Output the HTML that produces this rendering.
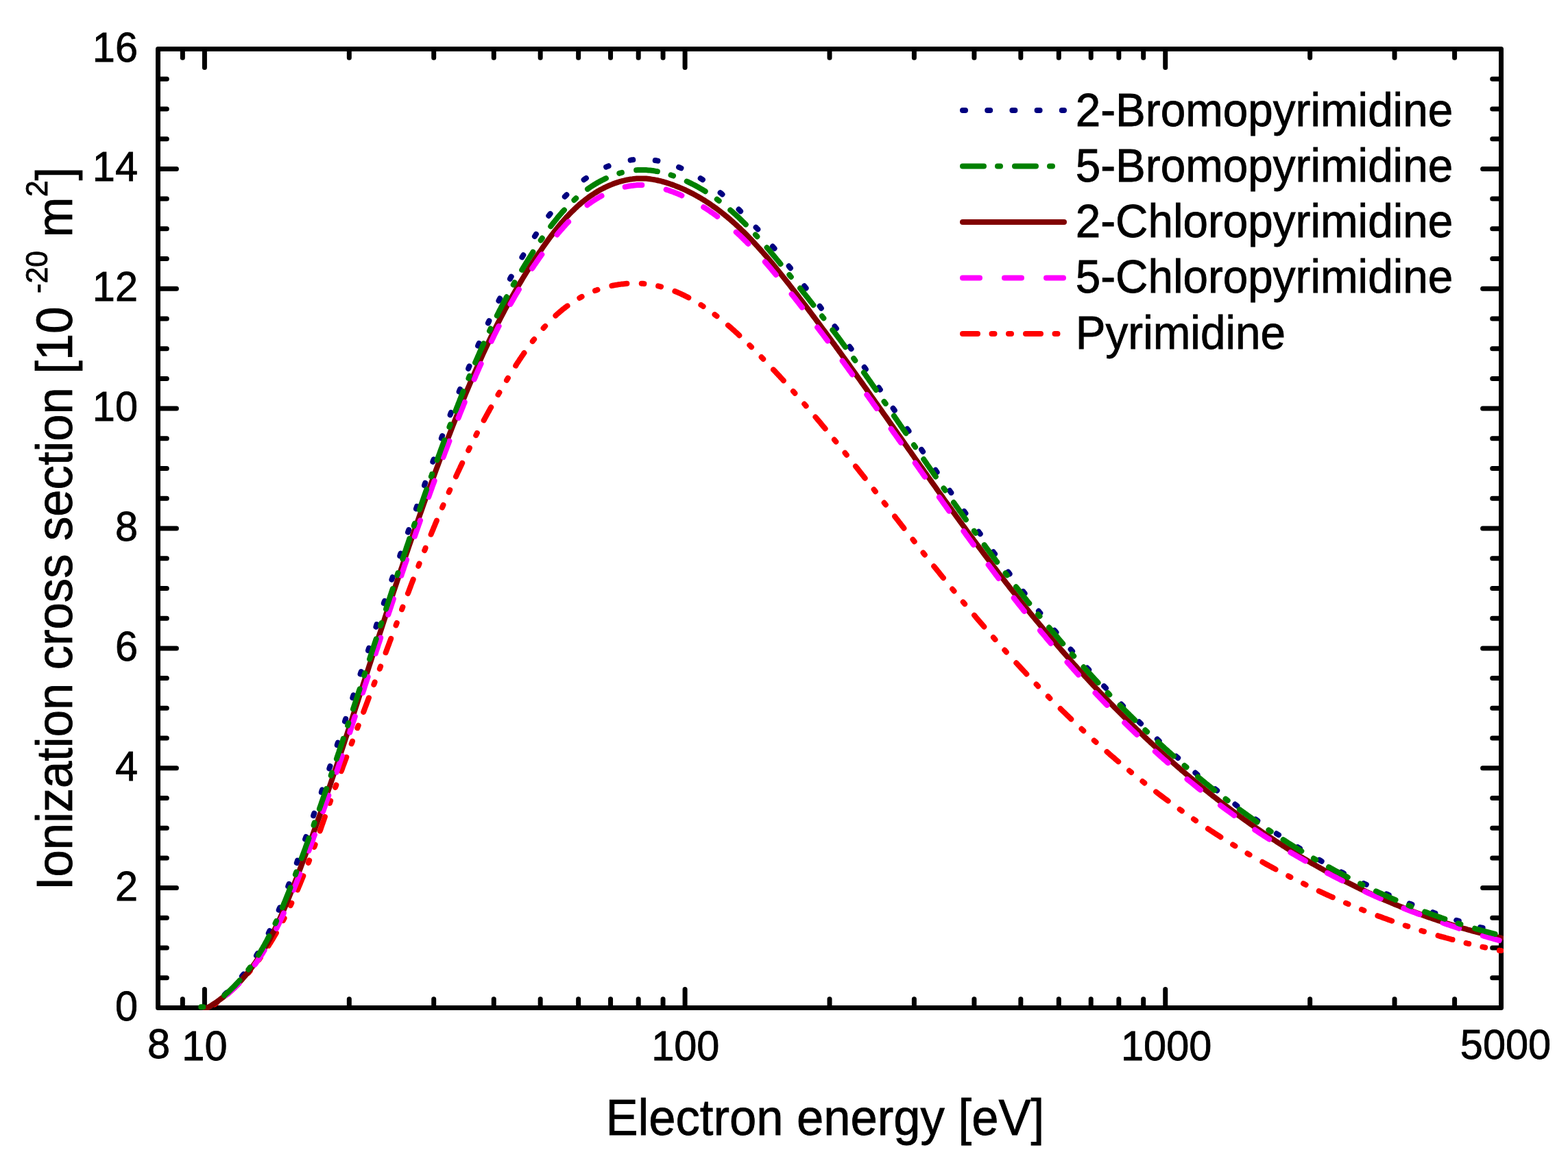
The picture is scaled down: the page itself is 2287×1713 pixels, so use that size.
<!DOCTYPE html>
<html><head><meta charset="utf-8"><title>Ionization cross section</title>
<style>html,body{margin:0;padding:0;background:#fff;}svg{display:block;}text{font-family:"Liberation Sans",Arial,sans-serif;fill:#000;}</style></head><body>
<svg width="2287" height="1713" viewBox="0 0 2287 1713">
<rect width="2287" height="1713" fill="#fff"/>
<path d="M298.40 1470.50V1443.60M298.40 71.50V98.40M999.08 1470.50V1443.60M999.08 71.50V98.40M1699.75 1470.50V1443.60M1699.75 71.50V98.40M266.34 1470.50V1457.70M266.34 71.50V84.30M509.33 1470.50V1457.70M509.33 71.50V84.30M632.71 1470.50V1457.70M632.71 71.50V84.30M720.25 1470.50V1457.70M720.25 71.50V84.30M788.15 1470.50V1457.70M788.15 71.50V84.30M843.63 1470.50V1457.70M843.63 71.50V84.30M890.54 1470.50V1457.70M890.54 71.50V84.30M931.17 1470.50V1457.70M931.17 71.50V84.30M967.02 1470.50V1457.70M967.02 71.50V84.30M1210.00 1470.50V1457.70M1210.00 71.50V84.30M1333.38 1470.50V1457.70M1333.38 71.50V84.30M1420.92 1470.50V1457.70M1420.92 71.50V84.30M1488.83 1470.50V1457.70M1488.83 71.50V84.30M1544.31 1470.50V1457.70M1544.31 71.50V84.30M1591.21 1470.50V1457.70M1591.21 71.50V84.30M1631.85 1470.50V1457.70M1631.85 71.50V84.30M1667.69 1470.50V1457.70M1667.69 71.50V84.30M1910.67 1470.50V1457.70M1910.67 71.50V84.30M2034.06 1470.50V1457.70M2034.06 71.50V84.30M2121.60 1470.50V1457.70M2121.60 71.50V84.30M230.50 1426.78H243.30M2189.50 1426.78H2176.70M230.50 1383.06H243.30M2189.50 1383.06H2176.70M230.50 1339.34H243.30M2189.50 1339.34H2176.70M230.50 1295.62H257.40M2189.50 1295.62H2162.60M230.50 1251.91H243.30M2189.50 1251.91H2176.70M230.50 1208.19H243.30M2189.50 1208.19H2176.70M230.50 1164.47H243.30M2189.50 1164.47H2176.70M230.50 1120.75H257.40M2189.50 1120.75H2162.60M230.50 1077.03H243.30M2189.50 1077.03H2176.70M230.50 1033.31H243.30M2189.50 1033.31H2176.70M230.50 989.59H243.30M2189.50 989.59H2176.70M230.50 945.88H257.40M2189.50 945.88H2162.60M230.50 902.16H243.30M2189.50 902.16H2176.70M230.50 858.44H243.30M2189.50 858.44H2176.70M230.50 814.72H243.30M2189.50 814.72H2176.70M230.50 771.00H257.40M2189.50 771.00H2162.60M230.50 727.28H243.30M2189.50 727.28H2176.70M230.50 683.56H243.30M2189.50 683.56H2176.70M230.50 639.84H243.30M2189.50 639.84H2176.70M230.50 596.12H257.40M2189.50 596.12H2162.60M230.50 552.41H243.30M2189.50 552.41H2176.70M230.50 508.69H243.30M2189.50 508.69H2176.70M230.50 464.97H243.30M2189.50 464.97H2176.70M230.50 421.25H257.40M2189.50 421.25H2162.60M230.50 377.53H243.30M2189.50 377.53H2176.70M230.50 333.81H243.30M2189.50 333.81H2176.70M230.50 290.09H243.30M2189.50 290.09H2176.70M230.50 246.38H257.40M2189.50 246.38H2162.60M230.50 202.66H243.30M2189.50 202.66H2176.70M230.50 158.94H243.30M2189.50 158.94H2176.70M230.50 115.22H243.30M2189.50 115.22H2176.70" stroke="#000" stroke-width="7" stroke-linecap="round" fill="none"/>
<rect x="230.5" y="71.5" width="1959.0" height="1399.0" fill="none" stroke="#000" stroke-width="7" stroke-linejoin="round"/>
<defs><clipPath id="pc"><rect x="227.0" y="68.0" width="1966.0" height="1406.0"/></clipPath></defs>
<g clip-path="url(#pc)" fill="none" stroke-width="8" stroke-linecap="round" stroke-linejoin="round">
<path d="M312.9 1465.5L314.5 1464.3L315.9 1463.3M332.4 1449.9L333.9 1448.6L335.4 1447.2L336.9 1445.9L338.4 1444.5L339.8 1443.2L341.3 1441.8L342.7 1440.4L344.2 1439.0L345.6 1437.6L347.0 1436.2L348.2 1435.0M362.3 1419.7L363.5 1418.1L364.7 1416.8M377.5 1400.5L378.7 1398.9L379.7 1397.4M391.7 1379.9L392.7 1378.2L393.8 1376.5L394.9 1374.8L395.9 1373.1L397.0 1371.4L398.0 1369.7L399.0 1368.0L400.0 1366.3L401.1 1364.5L402.1 1362.8L402.9 1361.3M412.9 1343.1L413.8 1341.3L414.6 1339.8M423.7 1321.1L424.6 1319.3L425.3 1317.7M434.0 1298.3L434.8 1296.5L435.5 1294.6L436.3 1292.8L437.1 1290.9L437.9 1289.1L438.6 1287.2L439.4 1285.4L440.1 1283.5L440.9 1281.7L441.6 1279.8L442.3 1278.2M449.8 1258.9L450.5 1257.0L451.1 1255.4M458.3 1235.9L459.0 1234.0L459.6 1232.4M466.7 1212.4L467.4 1210.5L468.1 1208.6L468.7 1206.7L469.4 1204.8L470.0 1202.9L470.7 1201.0L471.4 1199.1L472.0 1197.3L472.7 1195.4L473.3 1193.5L473.9 1191.8M480.9 1172.0L481.5 1170.1L482.1 1168.5M489.1 1148.9L489.8 1147.1L490.4 1145.4M497.8 1125.2L498.5 1123.3L499.2 1121.5L499.8 1119.6L500.5 1117.7L501.2 1115.8L501.9 1114.0L502.6 1112.1L503.3 1110.2L504.0 1108.3L504.7 1106.5L505.3 1104.8M512.7 1085.2L513.4 1083.3L514.0 1081.6M521.3 1062.2L522.0 1060.4L522.7 1058.7M530.2 1038.9L530.9 1037.0L531.6 1035.1L532.3 1033.2L533.0 1031.4L533.7 1029.5L534.4 1027.6L535.1 1025.8L535.8 1023.9L536.5 1022.0L537.2 1020.1L537.9 1018.3M545.3 998.9L546.0 997.0L546.6 995.3M553.8 975.9L554.5 974.0L555.1 972.4M562.6 952.2L563.3 950.4L564.0 948.5L564.7 946.6L565.4 944.7L566.1 942.9L566.8 941.0L567.5 939.1L568.2 937.2L568.9 935.4L569.6 933.5L570.2 931.8M577.5 912.4L578.2 910.5L578.8 908.9M586.1 889.2L586.8 887.3L587.4 885.7M594.9 865.8L595.7 864.0L596.4 862.1L597.1 860.2L597.8 858.3L598.5 856.5L599.2 854.6L599.9 852.7L600.6 850.9L601.3 849.0L602.1 847.1L602.7 845.5M610.3 825.9L611.0 824.0L611.6 822.4M619.2 803.1L620.0 801.3L620.6 799.6M628.6 779.7L629.4 777.8L630.1 776.0L630.9 774.1L631.7 772.3L632.4 770.4L633.2 768.6L634.0 766.7L634.7 764.9L635.5 763.0L636.3 761.2L636.9 759.6M645.0 740.5L645.8 738.6L646.5 737.0M654.7 718.2L655.5 716.4L656.2 714.8M665.0 695.4L665.8 693.6L666.6 691.8L667.5 690.0L668.3 688.2L669.2 686.4L670.0 684.6L670.9 682.7L671.7 680.9L672.6 679.1L673.4 677.3L674.2 675.7M683.2 657.1L684.1 655.3L684.9 653.7M694.2 635.2L695.1 633.4L695.9 631.8M705.7 613.3L706.7 611.5L707.6 609.7L708.6 608.0L709.5 606.2L710.5 604.5L711.4 602.7L712.4 601.0L713.4 599.2L714.3 597.5L715.3 595.7L716.2 594.2M726.5 575.9L727.5 574.2L728.4 572.7M739.0 554.8L740.0 553.1L740.9 551.6M752.2 533.6L753.2 531.9L754.3 530.2L755.4 528.5L756.5 526.9L757.6 525.2L758.7 523.5L759.8 521.9L760.9 520.2L762.1 518.5L763.2 516.9L764.3 515.2L764.5 515.0M776.8 498.0L778.0 496.4L779.1 495.1M792.6 478.7L794.0 477.2L795.2 475.9M810.4 460.5L811.9 459.1L813.4 457.8L814.9 456.5L816.4 455.1L817.9 453.9L819.5 452.6L821.0 451.3L822.6 450.1L824.2 448.8L825.8 447.6L827.4 446.4L827.6 446.3M845.3 434.7L847.1 433.7L848.6 432.9M868.0 424.1L869.9 423.4L871.5 422.8M892.4 416.9L894.4 416.5L896.3 416.1L898.3 415.8L900.3 415.5L902.3 415.1L904.2 414.9L906.2 414.6L908.2 414.4L910.2 414.2L912.2 414.0L914.2 413.8L914.4 413.8M935.7 413.7L937.7 413.8L939.4 414.0M960.1 417.3L962.1 417.8L964.0 418.3M984.4 425.0L986.3 425.8L988.1 426.5L989.9 427.3L991.8 428.1L993.6 429.0L995.4 429.8L997.2 430.7L999.0 431.6L1000.8 432.5L1002.6 433.4L1004.3 434.3M1022.4 444.9L1024.1 446.0L1025.6 447.0M1042.5 459.0L1044.1 460.2L1045.5 461.2M1061.9 474.7L1063.5 476.0L1065.0 477.3L1066.5 478.6L1068.0 479.9L1069.5 481.3L1071.0 482.6L1072.4 483.9L1073.9 485.3L1075.4 486.6L1076.9 488.0L1078.3 489.4M1093.3 503.7L1094.8 505.1L1096.0 506.3M1110.6 521.1L1112.0 522.5L1113.2 523.8M1128.0 539.4L1129.4 540.8L1130.8 542.3L1132.1 543.7L1133.5 545.2L1134.8 546.7L1136.2 548.1L1137.6 549.6L1138.9 551.1L1140.3 552.5L1141.6 554.0L1142.8 555.3M1156.9 570.9L1158.2 572.4L1159.4 573.7M1173.2 589.5L1174.5 591.0L1175.6 592.3M1189.4 608.5L1190.7 610.0L1192.0 611.6L1193.3 613.1L1194.6 614.6L1195.9 616.2L1197.2 617.7L1198.4 619.2L1199.7 620.8L1201.0 622.3L1202.3 623.8L1203.6 625.4M1216.9 641.6L1218.2 643.1L1219.3 644.5M1232.5 660.8L1233.7 662.4L1234.8 663.8M1248.0 680.4L1249.3 682.0L1250.5 683.5L1251.7 685.1L1253.0 686.7L1254.2 688.3L1255.5 689.8L1256.7 691.4L1257.9 693.0L1259.2 694.5L1260.4 696.1L1261.6 697.7M1274.6 714.2L1275.8 715.8L1276.9 717.2M1289.6 733.6L1290.8 735.2L1291.9 736.5M1305.1 753.5L1306.3 755.1L1307.5 756.7L1308.8 758.3L1310.0 759.8L1311.2 761.4L1312.5 763.0L1313.7 764.6L1314.9 766.2L1316.1 767.7L1317.4 769.3L1318.4 770.7M1331.4 787.2L1332.6 788.8L1333.7 790.2M1346.5 806.5L1347.7 808.1L1348.8 809.4M1362.2 826.3L1363.5 827.8L1364.7 829.4L1366.0 830.9L1367.2 832.5L1368.5 834.1L1369.7 835.6L1371.0 837.2L1372.2 838.7L1373.5 840.3L1374.8 841.9L1375.9 843.2M1389.1 859.5L1390.4 861.0L1391.5 862.4M1404.7 878.4L1406.0 879.9L1407.1 881.3M1421.0 897.7L1422.3 899.2L1423.6 900.8L1424.9 902.3L1426.2 903.8L1427.5 905.3L1428.8 906.8L1430.1 908.4L1431.4 909.9L1432.7 911.4L1434.0 912.9L1435.3 914.4M1448.9 930.1L1450.2 931.6L1451.5 933.1M1465.3 948.6L1466.7 950.1L1467.8 951.4M1482.3 967.3L1483.7 968.8L1485.0 970.2L1486.4 971.7L1487.7 973.2L1489.1 974.6L1490.4 976.1L1491.8 977.6L1493.2 979.0L1494.5 980.5L1495.9 981.9L1497.3 983.4M1511.6 998.5L1512.9 999.9L1514.1 1001.2M1528.8 1016.2L1530.2 1017.6L1531.4 1018.9M1546.7 1034.1L1548.1 1035.5L1549.5 1036.9L1551.0 1038.3L1552.4 1039.6L1553.8 1041.0L1555.2 1042.4L1556.7 1043.8L1558.1 1045.2L1559.6 1046.6L1561.0 1048.0L1562.3 1049.2M1577.5 1063.6L1579.0 1065.0L1580.3 1066.2M1595.8 1080.4L1597.3 1081.7L1598.6 1082.9M1614.5 1096.9L1616.0 1098.3L1617.5 1099.6L1619.0 1100.9L1620.5 1102.2L1622.0 1103.5L1623.6 1104.8L1625.1 1106.1L1626.6 1107.4L1628.1 1108.7L1629.6 1110.0L1631.2 1111.3M1647.1 1124.5L1648.7 1125.8L1650.0 1126.9M1666.4 1140.1L1668.0 1141.3L1669.3 1142.4M1686.1 1155.4L1687.7 1156.6L1689.3 1157.9L1690.9 1159.1L1692.5 1160.3L1694.1 1161.5L1695.7 1162.7L1697.3 1163.9L1698.9 1165.1L1700.5 1166.3L1702.1 1167.4L1703.7 1168.6M1720.7 1181.0L1722.3 1182.1L1723.8 1183.2M1741.0 1195.2L1742.6 1196.3L1744.1 1197.3M1761.9 1209.3L1763.6 1210.4L1765.2 1211.5L1766.9 1212.6L1768.6 1213.7L1770.3 1214.8L1771.9 1215.9L1773.6 1217.0L1775.3 1218.0L1777.0 1219.1L1778.7 1220.2L1780.4 1221.3M1798.2 1232.4L1799.9 1233.5L1801.4 1234.4M1819.4 1245.2L1821.1 1246.2L1822.6 1247.1M1841.3 1257.8L1843.0 1258.7L1844.8 1259.7L1846.5 1260.7L1848.2 1261.7L1850.0 1262.6L1851.7 1263.6L1853.5 1264.5L1855.3 1265.5L1857.0 1266.5L1858.8 1267.4L1860.5 1268.4M1879.1 1278.2L1880.9 1279.1L1882.4 1279.9M1901.0 1289.2L1902.8 1290.1L1904.6 1291.0M1923.7 1300.1L1925.5 1301.0L1927.4 1301.8L1929.2 1302.7L1931.0 1303.5L1932.8 1304.3L1934.6 1305.2L1936.5 1306.0L1938.3 1306.8L1940.1 1307.6L1941.9 1308.5L1943.8 1309.3M1963.0 1317.6L1964.9 1318.4L1966.5 1319.1M1985.9 1327.1L1987.8 1327.8L1989.4 1328.4M2009.4 1336.2L2011.3 1336.9L2013.2 1337.6L2015.1 1338.3L2016.9 1339.0L2018.8 1339.7L2020.7 1340.3L2022.6 1341.0L2024.5 1341.7L2026.3 1342.4L2028.2 1343.0L2030.1 1343.7M2049.7 1350.5L2051.6 1351.1L2053.3 1351.6M2073.3 1358.0L2075.2 1358.6L2076.9 1359.1M2097.5 1365.2L2099.4 1365.8L2101.3 1366.3L2103.3 1366.9L2105.2 1367.4L2107.1 1367.9L2109.1 1368.5L2111.0 1369.0L2112.9 1369.5L2114.8 1370.0L2116.8 1370.6L2118.5 1371.0M2138.6 1376.1L2140.5 1376.6L2142.2 1377.0M2162.4 1381.7L2164.4 1382.1L2166.1 1382.5M2186.9 1386.8L2188.9 1387.1L2189.4 1387.1" stroke="#FF0000"/>
<path d="M298.2 1470.6L300.2 1470.5L302.0 1470.4M327.7 1451.1L329.2 1449.7L330.6 1448.4M352.9 1424.4L354.1 1422.8L355.2 1421.5M374.0 1394.3L375.0 1392.6L375.9 1391.1M391.7 1361.6L392.6 1359.8L393.3 1358.2M406.7 1327.8L407.5 1325.9L408.1 1324.3M420.2 1293.3L420.9 1291.4L421.5 1289.8M432.8 1259.1L433.5 1257.2L434.0 1255.5M445.1 1224.5L445.8 1222.6L446.4 1220.9M457.1 1190.2L457.7 1188.3L458.3 1186.7M468.8 1155.9L469.4 1154.0L470.0 1152.4M480.3 1121.5L480.9 1119.6L481.5 1118.0M491.7 1087.1L492.3 1085.2L492.8 1083.6M503.0 1052.7L503.6 1050.8L504.2 1048.9M514.3 1018.2L514.9 1016.3L515.5 1014.4M525.6 983.5L526.3 981.6L526.8 980.0M537.0 949.1L537.6 947.2L538.1 945.6M548.4 914.7L549.0 912.8L549.5 911.1M559.8 880.3L560.4 878.4L561.0 876.8M571.4 845.7L572.1 843.8L572.6 842.2M583.2 811.1L583.8 809.2L584.4 807.6M595.0 776.6L595.7 774.7L596.2 773.1M606.9 742.4L607.6 740.5L608.1 738.8M619.0 708.2L619.6 706.3L620.2 704.7M631.3 673.8L632.0 672.0L632.6 670.3M643.8 639.6L644.5 637.7L645.1 636.0M656.6 605.4L657.3 603.5L657.9 601.9M669.6 571.5L670.3 569.7L671.0 568.0M683.1 537.9L683.8 536.0L684.5 534.4M697.1 504.5L697.9 502.6L698.6 501.0M711.9 471.4L712.8 469.6L713.4 468.2M727.4 438.9L728.3 437.1L729.1 435.5M743.9 406.9L744.8 405.1L745.7 403.6M761.4 375.4L762.4 373.7L763.3 372.2M779.9 344.8L781.0 343.1L781.9 341.7M800.3 314.9L801.5 313.3L802.6 311.9M823.8 286.9L825.2 285.5L826.4 284.2M851.6 262.3L853.3 261.1L854.9 260.0M884.1 243.7L885.9 242.9L887.6 242.2M919.6 233.6L921.6 233.3L923.3 233.1M955.7 234.0L957.6 234.3L959.4 234.7M990.0 243.9L991.8 244.6L993.4 245.3M1021.7 260.2L1023.4 261.3L1024.9 262.2M1050.6 281.2L1052.2 282.4L1053.5 283.6M1077.5 305.5L1078.9 306.9L1080.1 308.2M1102.6 331.7L1103.9 333.1L1105.3 334.6M1127.0 359.5L1128.3 361.0L1129.6 362.5M1150.6 388.3L1151.8 389.9L1152.9 391.2M1173.2 417.3L1174.4 418.9L1175.6 420.5M1195.6 446.7L1196.8 448.3L1197.8 449.7M1217.5 476.2L1218.7 477.8L1219.9 479.4M1239.2 505.8L1240.4 507.5L1241.6 509.1M1260.7 535.7L1261.8 537.3L1262.8 538.8M1281.7 565.5L1282.8 567.2L1283.8 568.6M1302.6 595.7L1303.8 597.4L1304.8 598.8M1323.3 625.8L1324.5 627.4L1325.5 628.9M1344.0 655.9L1345.1 657.6L1346.1 659.0M1364.5 685.8L1365.6 687.4L1366.6 688.9M1385.2 715.8L1386.3 717.5L1387.3 718.9M1406.2 746.0L1407.4 747.6L1408.4 749.0M1427.4 775.8L1428.5 777.4L1429.7 779.0M1448.8 805.3L1449.9 806.9L1451.0 808.3M1470.4 834.4L1471.6 836.0L1472.6 837.4M1492.3 863.0L1493.5 864.6L1494.6 865.9M1514.9 891.6L1516.2 893.2L1517.3 894.5M1538.1 919.8L1539.4 921.3L1540.5 922.7M1561.6 947.4L1562.9 948.9L1564.1 950.2M1585.7 974.5L1587.0 976.0L1588.2 977.3M1610.2 1001.2L1611.6 1002.6L1613.0 1004.1M1635.5 1027.5L1636.9 1028.9L1638.1 1030.2M1661.4 1053.3L1662.8 1054.7L1664.1 1055.9M1687.8 1078.4L1689.3 1079.8L1690.7 1081.1M1715.4 1103.4L1716.9 1104.8L1718.2 1105.9M1743.4 1127.6L1745.0 1128.9L1746.5 1130.2M1772.3 1151.2L1773.8 1152.4L1775.2 1153.5M1801.4 1173.6L1803.0 1174.8L1804.4 1175.9M1831.3 1195.4L1832.9 1196.5L1834.3 1197.5M1861.8 1216.3L1863.5 1217.4L1865.0 1218.3M1892.8 1236.0L1894.5 1237.1L1896.0 1238.0M1924.4 1254.8L1926.1 1255.8L1927.7 1256.7M1956.6 1272.5L1958.4 1273.4L1959.9 1274.3M1989.2 1289.0L1991.0 1289.9L1992.8 1290.7M2022.3 1304.3L2024.1 1305.1L2025.7 1305.8M2055.7 1318.4L2057.6 1319.1L2059.4 1319.8M2089.9 1331.2L2091.7 1331.9L2093.4 1332.5M2124.2 1342.8L2126.1 1343.4L2127.8 1343.9M2159.0 1353.0L2160.9 1353.5L2162.6 1353.9" stroke="#000080"/>
<path d="M298.4 1470.5L300.4 1470.5L302.4 1470.5L304.4 1469.5L306.4 1468.3L308.4 1467.0L310.4 1465.7L312.4 1464.4L314.4 1463.1L316.4 1461.7L318.4 1460.2L320.4 1458.8L322.4 1457.3L324.4 1455.8L326.4 1454.2L328.4 1452.6L330.4 1450.9L332.4 1449.2L334.4 1447.5L336.4 1445.7L338.4 1443.9L340.4 1442.0L342.4 1440.1L344.4 1438.1L346.4 1436.1L348.4 1434.0L350.4 1431.9L352.4 1429.7L354.4 1427.4L356.4 1425.1L358.4 1422.8L360.4 1420.4L362.4 1417.9L364.4 1415.3L366.4 1412.7L368.4 1410.1L370.4 1407.3L372.4 1404.5L374.4 1401.6L376.4 1398.6L378.4 1395.6L380.4 1392.5L382.4 1389.3L384.4 1386.0L386.4 1382.6L388.4 1379.2L390.4 1375.7L392.4 1372.1L394.4 1368.3L396.4 1364.5L398.4 1360.7L400.4 1356.7L402.4 1352.6L404.4 1348.4L406.4 1344.2L408.4 1339.8L410.4 1335.4L412.4 1330.9L414.4 1326.3L416.4 1321.6L418.4 1316.8L420.4 1311.9L422.4 1307.0L424.4 1302.1L426.4 1297.0L428.4 1292.0L430.4 1286.8L432.4 1281.7L434.4 1276.5L436.4 1271.3L438.4 1266.0L440.4 1260.7L442.4 1255.4L444.4 1250.1L446.4 1244.7L448.4 1239.3L450.4 1233.8L452.4 1228.4L454.4 1222.9L456.4 1217.3L458.4 1211.7L460.4 1206.1L462.4 1200.5L464.4 1194.9L466.4 1189.2L468.4 1183.5L470.4 1177.7L472.4 1171.9L474.4 1166.1L476.4 1160.3L478.4 1154.5L480.4 1148.6L482.4 1142.7L484.4 1136.8L486.4 1130.8L488.4 1124.9L490.4 1118.9L492.4 1112.9L494.4 1106.9L496.4 1100.8L498.4 1094.8L500.4 1088.7L502.4 1082.6L504.4 1076.5L506.4 1070.4L508.4 1064.3L510.4 1058.2L512.4 1052.0L514.4 1045.9L516.4 1039.7L518.4 1033.6L520.4 1027.4L522.4 1021.3L524.4 1015.1L526.4 1009.0L528.4 1002.8L530.4 996.6L532.4 990.5L534.4 984.3L536.4 978.2L538.4 972.0L540.4 965.9L542.4 959.7L544.4 953.6L546.4 947.4L548.4 941.3L550.4 935.2L552.4 929.1L554.4 923.0L556.4 916.9L558.4 910.8L560.4 904.7L562.4 898.6L564.4 892.6L566.4 886.5L568.4 880.5L570.4 874.4L572.4 868.4L574.4 862.4L576.4 856.4L578.4 850.4L580.4 844.5L582.4 838.5L584.4 832.6L586.4 826.7L588.4 820.8L590.4 814.9L592.4 809.0L594.4 803.1L596.4 797.3L598.4 791.5L600.4 785.7L602.4 779.9L604.4 774.1L606.4 768.4L608.4 762.7L610.4 757.0L612.4 751.3L614.4 745.6L616.4 740.0L618.4 734.3L620.4 728.7L622.4 723.2L624.4 717.6L626.4 712.1L628.4 706.5L630.4 701.0L632.4 695.6L634.4 690.1L636.4 684.7L638.4 679.3L640.4 673.9L642.4 668.6L644.4 663.2L646.4 657.9L648.4 652.6L650.4 647.4L652.4 642.1L654.4 636.9L656.4 631.7L658.4 626.6L660.4 621.4L662.4 616.3L664.4 611.2L666.4 606.2L668.4 601.2L670.4 596.2L672.4 591.2L674.4 586.3L676.4 581.4L678.4 576.5L680.4 571.7L682.4 566.9L684.4 562.2L686.4 557.4L688.4 552.8L690.4 548.1L692.4 543.5L694.4 539.0L696.4 534.4L698.4 529.9L700.4 525.5L702.4 521.1L704.4 516.7L706.4 512.4L708.4 508.1L710.4 503.8L712.4 499.6L714.4 495.4L716.4 491.3L718.4 487.2L720.4 483.1L722.4 479.1L724.4 475.1L726.4 471.2L728.4 467.3L730.4 463.4L732.4 459.6L734.4 455.8L736.4 452.0L738.4 448.3L740.4 444.6L742.4 440.9L744.4 437.3L746.4 433.7L748.4 430.2L750.4 426.7L752.4 423.2L754.4 419.7L756.4 416.3L758.4 412.9L760.4 409.6L762.4 406.3L764.4 403.0L766.4 399.7L768.4 396.5L770.4 393.3L772.4 390.1L774.4 387.0L776.4 383.9L778.4 380.8L780.4 377.8L782.4 374.8L784.4 371.8L786.4 368.8L788.4 365.9L790.4 363.0L792.4 360.1L794.4 357.2L796.4 354.4L798.4 351.6L800.4 348.9L802.4 346.2L804.4 343.5L806.4 340.8L808.4 338.2L810.4 335.7L812.4 333.2L814.4 330.7L816.4 328.3L818.4 325.9L820.4 323.6L822.4 321.3L824.4 319.0L826.4 316.8L828.4 314.7L830.4 312.6L832.4 310.5L834.4 308.5L836.4 306.6L838.4 304.6L840.4 302.8L842.4 300.9L844.4 299.1L846.4 297.4L848.4 295.7L850.4 294.1L852.4 292.5L854.4 290.9L856.4 289.4L858.4 287.9L860.4 286.5L862.4 285.1L864.4 283.8L866.4 282.5L868.4 281.2L870.4 280.0L872.4 278.8L874.4 277.6L876.4 276.5L878.4 275.5L880.4 274.4L882.4 273.5L884.4 272.5L886.4 271.6L888.4 270.7L890.4 269.9L892.4 269.1L894.4 268.3L896.4 267.5L898.4 266.8L900.4 266.2L902.4 265.5L904.4 264.9L906.4 264.4L908.4 263.8L910.4 263.4L912.4 262.9L914.4 262.5L916.4 262.1L918.4 261.7L920.4 261.4L922.4 261.2L924.4 260.9L926.4 260.7L928.4 260.6L930.4 260.5L932.4 260.4L934.4 260.4L936.4 260.4L938.4 260.4L940.4 260.5L942.4 260.6L944.4 260.8L946.4 261.0L948.4 261.3L950.4 261.6L952.4 261.9L954.4 262.2L956.4 262.6L958.4 263.0L960.4 263.5L962.4 263.9L964.4 264.4L966.4 265.0L968.4 265.5L970.4 266.1L972.4 266.7L974.4 267.4L976.4 268.0L978.4 268.7L980.4 269.4L982.4 270.1L984.4 270.9L986.4 271.7L988.4 272.5L990.4 273.3L992.4 274.1L994.4 275.0L996.4 275.8L998.4 276.7L1000.4 277.7L1002.4 278.6L1004.4 279.6L1006.4 280.6L1008.4 281.6L1010.4 282.6L1012.4 283.7L1014.4 284.8L1016.4 285.9L1018.4 287.0L1020.4 288.2L1022.4 289.3L1024.4 290.6L1026.4 291.8L1028.4 293.0L1030.4 294.3L1032.4 295.6L1034.4 296.9L1036.4 298.3L1038.4 299.7L1040.4 301.1L1042.4 302.5L1044.4 303.9L1046.4 305.4L1048.4 306.9L1050.4 308.4L1052.4 310.0L1054.4 311.6L1056.4 313.2L1058.4 314.8L1060.4 316.4L1062.4 318.1L1064.4 319.8L1066.4 321.6L1068.4 323.3L1070.4 325.1L1072.4 326.9L1074.4 328.7L1076.4 330.6L1078.4 332.4L1080.4 334.4L1082.4 336.3L1084.4 338.2L1086.4 340.2L1088.4 342.2L1090.4 344.2L1092.4 346.3L1094.4 348.4L1096.4 350.4L1098.4 352.6L1100.4 354.7L1102.4 356.9L1104.4 359.0L1106.4 361.3L1108.4 363.5L1110.4 365.7L1112.4 368.0L1114.4 370.3L1116.4 372.6L1118.4 374.9L1120.4 377.3L1122.4 379.6L1124.4 382.0L1126.4 384.4L1128.4 386.8L1130.4 389.3L1132.4 391.7L1134.4 394.2L1136.4 396.7L1138.4 399.2L1140.4 401.7L1142.4 404.2L1144.4 406.7L1146.4 409.2L1148.4 411.8L1150.4 414.3L1152.4 416.9L1154.4 419.5L1156.4 422.1L1158.4 424.6L1160.4 427.2L1162.4 429.8L1164.4 432.4L1166.4 435.1L1168.4 437.7L1170.4 440.3L1172.4 442.9L1174.4 445.5L1176.4 448.2L1178.4 450.8L1180.4 453.5L1182.4 456.1L1184.4 458.8L1186.4 461.5L1188.4 464.1L1190.4 466.8L1192.4 469.5L1194.4 472.2L1196.4 474.9L1198.4 477.6L1200.4 480.3L1202.4 483.0L1204.4 485.7L1206.4 488.4L1208.4 491.1L1210.4 493.8L1212.4 496.6L1214.4 499.3L1216.4 502.0L1218.4 504.8L1220.4 507.5L1222.4 510.3L1224.4 513.0L1226.4 515.8L1228.4 518.6L1230.4 521.3L1232.4 524.1L1234.4 526.9L1236.4 529.6L1238.4 532.4L1240.4 535.2L1242.4 538.0L1244.4 540.8L1246.4 543.6L1248.4 546.4L1250.4 549.2L1252.4 552.0L1254.4 554.8L1256.4 557.6L1258.4 560.4L1260.4 563.2L1262.4 566.1L1264.4 568.9L1266.4 571.7L1268.4 574.5L1270.4 577.4L1272.4 580.2L1274.4 583.0L1276.4 585.9L1278.4 588.7L1280.4 591.5L1282.4 594.4L1284.4 597.2L1286.4 600.0L1288.4 602.9L1290.4 605.7L1292.4 608.6L1294.4 611.4L1296.4 614.3L1298.4 617.1L1300.4 620.0L1302.4 622.8L1304.4 625.7L1306.4 628.5L1308.4 631.4L1310.4 634.2L1312.4 637.1L1314.4 639.9L1316.4 642.8L1318.4 645.6L1320.4 648.5L1322.4 651.3L1324.4 654.2L1326.4 657.0L1328.4 659.8L1330.4 662.7L1332.4 665.5L1334.4 668.4L1336.4 671.2L1338.4 674.1L1340.4 676.9L1342.4 679.7L1344.4 682.6L1346.4 685.4L1348.4 688.2L1350.4 691.1L1352.4 693.9L1354.4 696.7L1356.4 699.6L1358.4 702.4L1360.4 705.2L1362.4 708.0L1364.4 710.8L1366.4 713.7L1368.4 716.5L1370.4 719.3L1372.4 722.1L1374.4 724.9L1376.4 727.7L1378.4 730.5L1380.4 733.3L1382.4 736.0L1384.4 738.8L1386.4 741.6L1388.4 744.4L1390.4 747.2L1392.4 749.9L1394.4 752.7L1396.4 755.5L1398.4 758.2L1400.4 761.0L1402.4 763.7L1404.4 766.5L1406.4 769.2L1408.4 771.9L1410.4 774.7L1412.4 777.4L1414.4 780.1L1416.4 782.8L1418.4 785.5L1420.4 788.3L1422.4 791.0L1424.4 793.7L1426.4 796.3L1428.4 799.0L1430.4 801.7L1432.4 804.4L1434.4 807.1L1436.4 809.7L1438.4 812.4L1440.4 815.0L1442.4 817.7L1444.4 820.3L1446.4 823.0L1448.4 825.6L1450.4 828.2L1452.4 830.8L1454.4 833.5L1456.4 836.1L1458.4 838.7L1460.4 841.3L1462.4 843.8L1464.4 846.4L1466.4 849.0L1468.4 851.6L1470.4 854.1L1472.4 856.7L1474.4 859.2L1476.4 861.8L1478.4 864.3L1480.4 866.8L1482.4 869.4L1484.4 871.9L1486.4 874.4L1488.4 876.9L1490.4 879.4L1492.4 881.9L1494.4 884.4L1496.4 886.8L1498.4 889.3L1500.4 891.8L1502.4 894.2L1504.4 896.7L1506.4 899.1L1508.4 901.5L1510.4 904.0L1512.4 906.4L1514.4 908.8L1516.4 911.2L1518.4 913.6L1520.4 916.0L1522.4 918.4L1524.4 920.8L1526.4 923.1L1528.4 925.5L1530.4 927.9L1532.4 930.2L1534.4 932.5L1536.4 934.9L1538.4 937.2L1540.4 939.5L1542.4 941.8L1544.4 944.2L1546.4 946.5L1548.4 948.8L1550.4 951.0L1552.4 953.3L1554.4 955.6L1556.4 957.9L1558.4 960.1L1560.4 962.4L1562.4 964.6L1564.4 966.9L1566.4 969.1L1568.4 971.3L1570.4 973.5L1572.4 975.8L1574.4 978.0L1576.4 980.2L1578.4 982.4L1580.4 984.5L1582.4 986.7L1584.4 988.9L1586.4 991.1L1588.4 993.2L1590.4 995.4L1592.4 997.5L1594.4 999.7L1596.4 1001.8L1598.4 1003.9L1600.4 1006.0L1602.4 1008.2L1604.4 1010.3L1606.4 1012.4L1608.4 1014.4L1610.4 1016.5L1612.4 1018.6L1614.4 1020.7L1616.4 1022.7L1618.4 1024.8L1620.4 1026.9L1622.4 1028.9L1624.4 1030.9L1626.4 1033.0L1628.4 1035.0L1630.4 1037.0L1632.4 1039.0L1634.4 1041.0L1636.4 1043.0L1638.4 1045.0L1640.4 1047.0L1642.4 1049.0L1644.4 1051.0L1646.4 1052.9L1648.4 1054.9L1650.4 1056.8L1652.4 1058.8L1654.4 1060.7L1656.4 1062.7L1658.4 1064.6L1660.4 1066.5L1662.4 1068.4L1664.4 1070.3L1666.4 1072.2L1668.4 1074.1L1670.4 1076.0L1672.4 1077.9L1674.4 1079.8L1676.4 1081.6L1678.4 1083.5L1680.4 1085.4L1682.4 1087.2L1684.4 1089.1L1686.4 1090.9L1688.4 1092.7L1690.4 1094.6L1692.4 1096.4L1694.4 1098.2L1696.4 1100.0L1698.4 1101.8L1700.4 1103.6L1702.4 1105.4L1704.4 1107.1L1706.4 1108.9L1708.4 1110.7L1710.4 1112.4L1712.4 1114.2L1714.4 1115.9L1716.4 1117.7L1718.4 1119.4L1720.4 1121.1L1722.4 1122.9L1724.4 1124.6L1726.4 1126.3L1728.4 1128.0L1730.4 1129.7L1732.4 1131.4L1734.4 1133.1L1736.4 1134.8L1738.4 1136.4L1740.4 1138.1L1742.4 1139.8L1744.4 1141.4L1746.4 1143.1L1748.4 1144.7L1750.4 1146.3L1752.4 1148.0L1754.4 1149.6L1756.4 1151.2L1758.4 1152.8L1760.4 1154.4L1762.4 1156.0L1764.4 1157.6L1766.4 1159.2L1768.4 1160.8L1770.4 1162.4L1772.4 1163.9L1774.4 1165.5L1776.4 1167.0L1778.4 1168.6L1780.4 1170.1L1782.4 1171.7L1784.4 1173.2L1786.4 1174.7L1788.4 1176.3L1790.4 1177.8L1792.4 1179.3L1794.4 1180.8L1796.4 1182.3L1798.4 1183.8L1800.4 1185.2L1802.4 1186.7L1804.4 1188.2L1806.4 1189.7L1808.4 1191.1L1810.4 1192.6L1812.4 1194.0L1814.4 1195.5L1816.4 1196.9L1818.4 1198.3L1820.4 1199.8L1822.4 1201.2L1824.4 1202.6L1826.4 1204.0L1828.4 1205.4L1830.4 1206.8L1832.4 1208.2L1834.4 1209.6L1836.4 1210.9L1838.4 1212.3L1840.4 1213.7L1842.4 1215.0L1844.4 1216.4L1846.4 1217.7L1848.4 1219.1L1850.4 1220.4L1852.4 1221.7L1854.4 1223.1L1856.4 1224.4L1858.4 1225.7L1860.4 1227.0L1862.4 1228.3L1864.4 1229.6L1866.4 1230.9L1868.4 1232.2L1870.4 1233.5L1872.4 1234.7L1874.4 1236.0L1876.4 1237.3L1878.4 1238.5L1880.4 1239.8L1882.4 1241.0L1884.4 1242.2L1886.4 1243.5L1888.4 1244.7L1890.4 1245.9L1892.4 1247.1L1894.4 1248.4L1896.4 1249.6L1898.4 1250.8L1900.4 1252.0L1902.4 1253.1L1904.4 1254.3L1906.4 1255.5L1908.4 1256.7L1910.4 1257.8L1912.4 1259.0L1914.4 1260.2L1916.4 1261.3L1918.4 1262.4L1920.4 1263.6L1922.4 1264.7L1924.4 1265.8L1926.4 1267.0L1928.4 1268.1L1930.4 1269.2L1932.4 1270.3L1934.4 1271.4L1936.4 1272.5L1938.4 1273.6L1940.4 1274.7L1942.4 1275.7L1944.4 1276.8L1946.4 1277.9L1948.4 1278.9L1950.4 1280.0L1952.4 1281.0L1954.4 1282.1L1956.4 1283.1L1958.4 1284.1L1960.4 1285.2L1962.4 1286.2L1964.4 1287.2L1966.4 1288.2L1968.4 1289.2L1970.4 1290.2L1972.4 1291.2L1974.4 1292.2L1976.4 1293.2L1978.4 1294.2L1980.4 1295.2L1982.4 1296.1L1984.4 1297.1L1986.4 1298.0L1988.4 1299.0L1990.4 1299.9L1992.4 1300.9L1994.4 1301.8L1996.4 1302.8L1998.4 1303.7L2000.4 1304.6L2002.4 1305.5L2004.4 1306.4L2006.4 1307.3L2008.4 1308.2L2010.4 1309.1L2012.4 1310.0L2014.4 1310.9L2016.4 1311.8L2018.4 1312.7L2020.4 1313.5L2022.4 1314.4L2024.4 1315.2L2026.4 1316.1L2028.4 1316.9L2030.4 1317.8L2032.4 1318.6L2034.4 1319.5L2036.4 1320.3L2038.4 1321.1L2040.4 1321.9L2042.4 1322.7L2044.4 1323.5L2046.4 1324.3L2048.4 1325.1L2050.4 1325.9L2052.4 1326.7L2054.4 1327.5L2056.4 1328.3L2058.4 1329.0L2060.4 1329.8L2062.4 1330.6L2064.4 1331.3L2066.4 1332.1L2068.4 1332.8L2070.4 1333.5L2072.4 1334.3L2074.4 1335.0L2076.4 1335.7L2078.4 1336.5L2080.4 1337.2L2082.4 1337.9L2084.4 1338.6L2086.4 1339.3L2088.4 1340.0L2090.4 1340.7L2092.4 1341.3L2094.4 1342.0L2096.4 1342.7L2098.4 1343.4L2100.4 1344.0L2102.4 1344.7L2104.4 1345.3L2106.4 1346.0L2108.4 1346.6L2110.4 1347.3L2112.4 1347.9L2114.4 1348.5L2116.4 1349.2L2118.4 1349.8L2120.4 1350.4L2122.4 1351.0L2124.4 1351.6L2126.4 1352.2L2128.4 1352.8L2130.4 1353.4L2132.4 1354.0L2134.4 1354.6L2136.4 1355.1L2138.4 1355.7L2140.4 1356.3L2142.4 1356.8L2144.4 1357.4L2146.4 1358.0L2148.4 1358.5L2150.4 1359.0L2152.4 1359.6L2154.4 1360.1L2156.4 1360.6L2158.4 1361.2L2160.4 1361.7L2162.4 1362.2L2164.4 1362.7L2166.4 1363.2L2168.4 1363.7L2170.4 1364.2L2172.4 1364.7L2174.4 1365.2L2176.4 1365.6L2178.4 1366.1L2180.4 1366.6L2182.4 1367.1L2184.4 1367.5L2186.4 1368.0L2188.4 1368.4L2189.5 1368.7" stroke="#800000"/>
<path d="M329.9 1451.9L331.5 1450.7L333.0 1449.4L334.5 1448.1L336.0 1446.8L337.5 1445.5L339.0 1444.1L340.5 1442.8L342.0 1441.4L343.4 1440.0L344.8 1438.6L346.3 1437.2L347.7 1435.8L348.2 1435.3M371.6 1407.6L372.8 1406.0L373.9 1404.4L375.1 1402.8L376.2 1401.1L377.4 1399.5L378.5 1397.8L379.6 1396.1L380.7 1394.5L381.8 1392.8L382.9 1391.1L383.9 1389.4L385.0 1387.7L385.5 1386.9M403.2 1354.9L404.1 1353.1L404.9 1351.4L405.8 1349.6L406.7 1347.8L407.6 1346.0L408.4 1344.1L409.3 1342.3L410.1 1340.5L411.0 1338.7L411.8 1336.9L412.6 1335.1L413.4 1333.2L413.8 1332.3M428.2 1298.5L428.9 1296.6L429.6 1294.8L430.4 1292.9L431.1 1291.1L431.9 1289.2L432.6 1287.3L433.3 1285.5L434.1 1283.6L434.8 1281.8L435.5 1279.9L436.3 1278.0L437.0 1276.2L437.3 1275.5M450.3 1241.4L451.0 1239.5L451.7 1237.6L452.4 1235.8L453.1 1233.9L453.8 1232.0L454.5 1230.1L455.2 1228.3L455.9 1226.4L456.6 1224.5L457.2 1222.6L457.9 1220.8L458.6 1218.9L458.9 1218.2M471.1 1184.0L471.8 1182.2L472.4 1180.3L473.1 1178.4L473.8 1176.5L474.4 1174.6L475.1 1172.7L475.7 1170.8L476.4 1168.9L477.1 1167.1L477.7 1165.2L478.4 1163.3L479.0 1161.4L479.3 1160.7M490.9 1126.6L491.5 1124.7L492.2 1122.8L492.8 1120.9L493.5 1119.0L494.1 1117.1L494.7 1115.2L495.4 1113.3L496.0 1111.4L496.6 1109.5L497.3 1107.7L497.9 1105.8L498.5 1103.9L498.8 1103.1M510.2 1068.7L510.8 1066.8L511.4 1064.9L512.0 1063.0L512.6 1061.1L513.3 1059.2L513.9 1057.3L514.5 1055.4L515.1 1053.5L515.8 1051.6L516.4 1049.7L517.0 1047.8L517.6 1045.9L517.8 1045.4M529.0 1011.0L529.6 1009.1L530.3 1007.2L530.9 1005.3L531.5 1003.4L532.1 1001.5L532.7 999.6L533.3 997.7L534.0 995.8L534.6 993.9L535.2 992.0L535.8 990.1L536.4 988.2L536.6 987.7M547.7 953.7L548.3 951.8L548.9 949.9L549.5 948.0L550.2 946.1L550.8 944.2L551.4 942.3L552.0 940.4L552.6 938.5L553.3 936.6L553.9 934.7L554.5 932.8L555.1 930.9L555.2 930.6M566.3 896.9L566.9 895.0L567.5 893.1L568.2 891.2L568.8 889.3L569.4 887.4L570.1 885.5L570.7 883.6L571.3 881.7L571.9 879.8L572.6 877.9L573.2 876.0L573.8 874.1L573.9 873.9M585.3 840.0L585.9 838.1L586.5 836.2L587.2 834.3L587.8 832.4L588.5 830.5L589.1 828.6L589.7 826.7L590.4 824.8L591.0 822.9L591.7 821.0L592.3 819.2L593.0 817.3L593.1 816.8M604.8 782.7L605.5 780.9L606.1 779.0L606.8 777.1L607.4 775.2L608.1 773.3L608.8 771.4L609.4 769.5L610.1 767.6L610.7 765.7L611.4 763.9L612.1 762.0L612.7 760.1L613.0 759.4M625.2 725.0L625.9 723.1L626.6 721.2L627.2 719.3L627.9 717.5L628.6 715.6L629.3 713.7L630.0 711.8L630.6 709.9L631.3 708.1L632.0 706.2L632.7 704.3L633.4 702.4L633.7 701.5M646.5 667.0L647.2 665.2L647.9 663.3L648.6 661.4L649.3 659.5L650.0 657.7L650.8 655.8L651.5 653.9L652.2 652.1L652.9 650.2L653.6 648.3L654.3 646.5L655.0 644.6L655.4 643.7M668.5 609.9L669.3 608.0L670.0 606.2L670.7 604.3L671.5 602.4L672.2 600.6L673.0 598.7L673.7 596.9L674.5 595.0L675.2 593.2L675.9 591.3L676.7 589.4L677.5 587.6L677.7 586.9M691.7 553.4L692.5 551.6L693.3 549.8L694.0 547.9L694.8 546.1L695.6 544.3L696.4 542.4L697.2 540.6L698.0 538.8L698.8 536.9L699.6 535.1L700.5 533.3L701.3 531.4L701.6 530.8M716.8 497.8L717.6 496.0L718.5 494.2L719.4 492.4L720.2 490.6L721.1 488.8L722.0 487.0L722.9 485.2L723.8 483.5L724.6 481.7L725.5 479.9L726.4 478.1L727.3 476.3L727.6 475.9M744.5 443.8L745.5 442.1L746.5 440.3L747.5 438.6L748.5 436.8L749.5 435.1L750.4 433.4L751.4 431.6L752.4 429.9L753.5 428.2L754.5 426.5L755.5 424.7L756.5 423.0L756.9 422.4M776.2 391.7L777.3 390.0L778.4 388.4L779.5 386.7L780.7 385.1L781.8 383.4L782.9 381.8L784.1 380.1L785.2 378.5L786.3 376.8L787.5 375.2L788.7 373.6L789.8 371.9L790.3 371.3M812.5 342.4L813.8 340.8L815.0 339.3L816.3 337.8L817.6 336.3L819.0 334.8L820.3 333.3L821.6 331.8L823.0 330.3L824.3 328.8L825.7 327.3L827.0 325.9L828.4 324.4L829.1 323.7M856.5 299.3L858.1 298.1L859.7 296.9L861.4 295.8L863.0 294.6L864.7 293.5L866.3 292.4L868.0 291.3L869.7 290.3L871.4 289.3L873.2 288.2L874.9 287.2L876.6 286.3L877.5 285.8M911.7 272.7L913.7 272.3L915.7 271.9L917.6 271.5L919.6 271.2L921.6 270.9L923.6 270.7L925.5 270.4L927.5 270.3L929.5 270.1L931.5 270.1L933.5 270.0L935.5 270.0L936.3 270.0M971.6 276.6L973.5 277.2L975.4 277.8L977.2 278.5L979.1 279.2L981.0 279.8L982.9 280.5L984.7 281.3L986.6 282.0L988.5 282.7L990.3 283.5L992.2 284.3L994.0 285.1L994.4 285.3M1026.2 302.2L1027.9 303.2L1029.6 304.3L1031.3 305.4L1032.9 306.5L1034.6 307.6L1036.2 308.8L1037.9 309.9L1039.5 311.0L1041.2 312.2L1042.8 313.4L1044.4 314.5L1046.0 315.7L1046.2 315.9M1073.7 338.7L1075.2 340.0L1076.6 341.4L1078.1 342.8L1079.6 344.1L1081.0 345.5L1082.5 346.9L1083.9 348.3L1085.3 349.7L1086.7 351.1L1088.2 352.5L1089.6 353.9L1091.0 355.4L1091.3 355.7M1115.8 382.1L1117.1 383.6L1118.4 385.2L1119.7 386.7L1121.0 388.2L1122.3 389.7L1123.6 391.2L1124.9 392.7L1126.2 394.3L1127.5 395.8L1128.8 397.3L1130.0 398.9L1131.3 400.4L1131.8 401.0M1154.6 429.2L1155.8 430.7L1157.1 432.3L1158.3 433.9L1159.6 435.4L1160.8 437.0L1162.0 438.6L1163.3 440.2L1164.5 441.7L1165.7 443.3L1167.0 444.9L1168.2 446.5L1169.4 448.0L1169.9 448.6M1192.1 477.6L1193.3 479.2L1194.6 480.8L1195.8 482.4L1197.0 483.9L1198.2 485.5L1199.4 487.1L1200.6 488.7L1201.8 490.3L1203.0 491.9L1204.2 493.5L1205.4 495.1L1206.6 496.7L1207.0 497.3M1228.6 526.5L1229.8 528.1L1231.0 529.7L1232.1 531.3L1233.3 532.9L1234.5 534.5L1235.7 536.2L1236.9 537.8L1238.0 539.4L1239.2 541.0L1240.4 542.6L1241.6 544.3L1242.7 545.9L1243.2 546.5M1264.3 575.9L1265.5 577.5L1266.7 579.2L1267.8 580.8L1269.0 582.4L1270.2 584.0L1271.3 585.7L1272.5 587.3L1273.6 588.9L1274.8 590.6L1276.0 592.2L1277.1 593.8L1278.3 595.4L1278.7 596.1M1299.6 625.7L1300.8 627.3L1301.9 628.9L1303.1 630.6L1304.2 632.2L1305.4 633.8L1306.6 635.5L1307.7 637.1L1308.9 638.7L1310.0 640.4L1311.2 642.0L1312.3 643.6L1313.5 645.3L1313.9 645.9M1334.7 675.5L1335.9 677.2L1337.0 678.8L1338.2 680.5L1339.3 682.1L1340.5 683.7L1341.6 685.4L1342.8 687.0L1343.9 688.6L1345.1 690.3L1346.2 691.9L1347.4 693.5L1348.5 695.2L1349.0 695.8M1369.9 725.4L1371.0 727.0L1372.2 728.7L1373.4 730.3L1374.5 731.9L1375.7 733.6L1376.8 735.2L1378.0 736.8L1379.2 738.4L1380.3 740.1L1381.5 741.7L1382.6 743.3L1383.8 745.0L1384.2 745.6M1405.4 775.0L1406.6 776.6L1407.7 778.2L1408.9 779.9L1410.1 781.5L1411.3 783.1L1412.4 784.7L1413.6 786.3L1414.8 787.9L1416.0 789.6L1417.2 791.2L1418.3 792.8L1419.5 794.4L1420.0 795.0M1441.6 824.1L1442.8 825.7L1444.0 827.3L1445.2 828.9L1446.4 830.5L1447.6 832.1L1448.8 833.7L1450.0 835.3L1451.2 836.9L1452.4 838.5L1453.6 840.1L1454.8 841.7L1456.0 843.3L1456.5 843.9M1478.7 872.5L1479.9 874.1L1481.1 875.7L1482.4 877.3L1483.6 878.8L1484.8 880.4L1486.1 882.0L1487.3 883.5L1488.6 885.1L1489.8 886.7L1491.1 888.2L1492.3 889.8L1493.6 891.3L1494.0 891.9M1517.0 920.0L1518.2 921.6L1519.5 923.1L1520.8 924.6L1522.1 926.2L1523.4 927.7L1524.7 929.2L1525.9 930.8L1527.2 932.3L1528.5 933.8L1529.8 935.3L1531.1 936.9L1532.4 938.4L1532.7 938.8M1556.5 966.2L1557.8 967.7L1559.1 969.1L1560.5 970.6L1561.8 972.1L1563.1 973.6L1564.5 975.1L1565.8 976.6L1567.1 978.1L1568.5 979.6L1569.8 981.1L1571.1 982.5L1572.5 984.0L1573.0 984.6M1597.5 1011.0L1598.8 1012.4L1600.2 1013.9L1601.6 1015.3L1603.0 1016.8L1604.4 1018.2L1605.8 1019.7L1607.1 1021.1L1608.5 1022.5L1609.9 1024.0L1611.3 1025.4L1612.7 1026.9L1614.1 1028.3L1614.6 1028.8M1640.2 1054.5L1641.6 1055.9L1643.1 1057.3L1644.5 1058.7L1645.9 1060.1L1647.4 1061.5L1648.8 1062.9L1650.3 1064.3L1651.7 1065.6L1653.1 1067.0L1654.6 1068.4L1656.0 1069.8L1657.5 1071.2L1658.2 1071.9M1684.8 1096.5L1686.3 1097.8L1687.8 1099.2L1689.3 1100.5L1690.7 1101.8L1692.2 1103.2L1693.7 1104.5L1695.2 1105.8L1696.7 1107.2L1698.2 1108.5L1699.7 1109.8L1701.2 1111.1L1702.7 1112.4L1703.5 1113.1M1731.5 1136.9L1733.0 1138.2L1734.6 1139.4L1736.1 1140.7L1737.7 1142.0L1739.2 1143.2L1740.8 1144.5L1742.3 1145.8L1743.9 1147.0L1745.4 1148.3L1747.0 1149.5L1748.6 1150.8L1750.1 1152.0L1750.9 1152.6M1780.0 1175.1L1781.6 1176.3L1783.2 1177.5L1784.8 1178.7L1786.4 1179.9L1788.0 1181.1L1789.6 1182.2L1791.3 1183.4L1792.9 1184.6L1794.5 1185.8L1796.1 1186.9L1797.7 1188.1L1799.3 1189.3L1800.2 1189.9M1830.3 1210.8L1832.0 1211.9L1833.7 1213.1L1835.3 1214.2L1837.0 1215.3L1838.7 1216.4L1840.3 1217.5L1842.0 1218.6L1843.7 1219.7L1845.4 1220.7L1847.0 1221.8L1848.7 1222.9L1850.4 1224.0L1851.3 1224.5M1882.3 1243.7L1884.0 1244.7L1885.7 1245.8L1887.5 1246.8L1889.2 1247.8L1890.9 1248.8L1892.6 1249.8L1894.4 1250.8L1896.1 1251.8L1897.8 1252.8L1899.6 1253.8L1901.3 1254.8L1903.0 1255.8L1903.9 1256.3M1935.9 1273.8L1937.7 1274.7L1939.5 1275.6L1941.3 1276.6L1943.0 1277.5L1944.8 1278.4L1946.6 1279.3L1948.4 1280.2L1950.2 1281.1L1951.9 1282.0L1953.7 1282.9L1955.5 1283.8L1957.3 1284.7L1958.0 1285.1M1990.9 1300.9L1992.7 1301.7L1994.5 1302.6L1996.3 1303.4L1998.1 1304.2L2000.0 1305.0L2001.8 1305.9L2003.6 1306.7L2005.4 1307.5L2007.3 1308.3L2009.1 1309.1L2010.9 1309.9L2012.8 1310.7L2013.7 1311.1M2047.3 1325.2L2049.2 1326.0L2051.0 1326.7L2052.9 1327.5L2054.8 1328.2L2056.6 1328.9L2058.5 1329.7L2060.4 1330.4L2062.2 1331.1L2064.1 1331.8L2066.0 1332.5L2067.8 1333.3L2069.7 1334.0L2070.4 1334.2M2104.5 1346.6L2106.4 1347.3L2108.2 1347.9L2110.1 1348.6L2112.0 1349.2L2113.9 1349.8L2115.8 1350.5L2117.7 1351.1L2119.6 1351.8L2121.5 1352.4L2123.4 1353.0L2125.3 1353.6L2127.2 1354.3L2128.2 1354.6M2162.8 1365.3L2164.7 1365.9L2166.6 1366.5L2168.5 1367.0L2170.5 1367.6L2172.4 1368.1L2174.3 1368.7L2176.2 1369.2L2178.1 1369.8L2180.1 1370.3L2182.0 1370.9L2183.9 1371.4L2185.8 1372.0L2186.6 1372.2" stroke="#FF00FF"/>
<path d="M293.2 1469.3L296.4 1469.3M327.2 1452.5L328.7 1451.1L330.2 1449.8L331.7 1448.5L333.2 1447.2L334.6 1445.8L336.1 1444.4L337.5 1443.0L338.9 1441.6L340.4 1440.2L341.8 1438.8L343.2 1437.4L344.5 1435.9L345.9 1434.5L347.3 1433.0L348.6 1431.5L349.4 1430.6M362.4 1414.7L363.6 1413.1L364.8 1411.5M376.9 1393.5L378.0 1391.8L379.0 1390.0L380.1 1388.3L381.1 1386.6L382.1 1384.9L383.1 1383.2L384.1 1381.4L385.1 1379.7L386.1 1377.9L387.0 1376.2L388.0 1374.4L389.0 1372.7L389.9 1370.9L390.8 1369.1L391.8 1367.4L392.4 1366.0M401.5 1347.4L402.4 1345.6L403.1 1344.0M411.8 1324.1L412.6 1322.2L413.4 1320.4L414.1 1318.5L414.9 1316.7L415.7 1314.8L416.4 1313.0L417.2 1311.1L417.9 1309.3L418.6 1307.4L419.4 1305.6L420.1 1303.7L420.9 1301.8L421.6 1300.0L422.3 1298.1L423.1 1296.2L423.5 1295.1M430.9 1276.0L431.6 1274.1L432.2 1272.5M439.8 1252.3L440.5 1250.5L441.2 1248.6L441.9 1246.7L442.6 1244.8L443.3 1243.0L444.0 1241.1L444.7 1239.2L445.4 1237.3L446.0 1235.4L446.7 1233.6L447.4 1231.7L448.1 1229.8L448.8 1227.9L449.5 1226.1L450.2 1224.2L450.5 1223.2M457.5 1204.0L458.1 1202.1L458.7 1200.4M465.9 1180.2L466.5 1178.3L467.2 1176.4L467.9 1174.5L468.5 1172.6L469.2 1170.7L469.8 1168.8L470.5 1166.9L471.2 1165.0L471.8 1163.2L472.5 1161.3L473.1 1159.4L473.8 1157.5L474.4 1155.6L475.1 1153.7L475.7 1151.8L476.1 1150.9M482.7 1131.5L483.4 1129.6L484.0 1127.7M490.9 1107.3L491.5 1105.4L492.2 1103.5L492.8 1101.6L493.4 1099.7L494.1 1097.8L494.7 1095.9L495.3 1094.1L496.0 1092.2L496.6 1090.3L497.2 1088.4L497.9 1086.5L498.5 1084.6L499.1 1082.7L499.8 1080.8L500.4 1078.9L500.7 1077.9M507.1 1058.7L507.7 1056.8L508.3 1055.1M515.0 1034.7L515.6 1032.8L516.3 1030.9L516.9 1029.0L517.5 1027.1L518.1 1025.2L518.8 1023.3L519.4 1021.4L520.0 1019.5L520.6 1017.6L521.3 1015.7L521.9 1013.8L522.5 1011.9L523.1 1010.0L523.8 1008.1L524.4 1006.2L524.7 1005.3M531.1 985.8L531.7 983.9L532.3 982.2M539.0 961.8L539.6 959.9L540.2 958.0L540.8 956.1L541.5 954.2L542.1 952.3L542.7 950.4L543.3 948.5L543.9 946.6L544.6 944.7L545.2 942.8L545.8 940.9L546.4 939.0L547.1 937.1L547.7 935.2L548.3 933.3L548.6 932.4M555.0 912.9L555.6 911.0L556.3 909.1M563.0 888.7L563.6 886.8L564.2 884.9L564.9 883.0L565.5 881.1L566.1 879.2L566.7 877.3L567.4 875.4L568.0 873.5L568.6 871.6L569.3 869.7L569.9 867.8L570.5 865.9L571.1 864.0L571.8 862.1L572.4 860.2L572.8 859.0M579.3 839.5L579.9 837.6L580.4 836.0M587.3 815.6L587.9 813.7L588.6 811.8L589.2 809.9L589.8 808.0L590.5 806.1L591.1 804.2L591.8 802.3L592.4 800.4L593.0 798.5L593.7 796.6L594.3 794.7L595.0 792.9L595.6 791.0L596.2 789.1L596.9 787.2L597.2 786.2M603.7 767.3L604.3 765.4L604.9 763.8M611.8 743.7L612.5 741.8L613.2 739.9L613.8 738.0L614.5 736.1L615.1 734.2L615.8 732.3L616.5 730.4L617.1 728.6L617.8 726.7L618.4 724.8L619.1 722.9L619.8 721.0L620.4 719.1L621.1 717.2L621.8 715.4L622.1 714.4M628.9 695.3L629.6 693.5L630.1 691.8M637.5 671.3L638.2 669.5L638.9 667.6L639.6 665.7L640.3 663.8L641.0 662.0L641.7 660.1L642.3 658.2L643.0 656.3L643.7 654.4L644.4 652.6L645.1 650.7L645.8 648.8L646.5 646.9L647.2 645.1L647.9 643.2L648.2 642.3M655.4 623.1L656.1 621.2L656.8 619.5M664.4 599.7L665.1 597.8L665.8 596.0L666.5 594.1L667.3 592.2L668.0 590.4L668.7 588.5L669.5 586.7L670.2 584.8L670.9 582.9L671.7 581.1L672.4 579.2L673.1 577.4L673.9 575.5L674.6 573.7L675.4 571.8L675.6 571.1M683.4 552.1L684.1 550.3L684.8 548.7M693.1 529.1L693.9 527.2L694.7 525.4L695.5 523.6L696.3 521.7L697.1 519.9L697.9 518.1L698.7 516.3L699.5 514.4L700.3 512.6L701.1 510.8L702.0 508.9L702.8 507.1L703.6 505.3L704.4 503.5L705.3 501.7L705.5 501.2M714.0 482.8L714.9 481.0L715.6 479.5M724.8 460.6L725.7 458.8L726.6 457.0L727.5 455.2L728.4 453.4L729.3 451.7L730.3 449.9L731.2 448.1L732.1 446.3L733.0 444.5L733.9 442.8L734.9 441.0L735.8 439.2L736.7 437.5L737.7 435.7L738.6 433.9L739.0 433.3M748.7 415.5L749.7 413.8L750.5 412.2M761.2 393.9L762.2 392.2L763.3 390.4L764.3 388.7L765.3 387.0L766.4 385.3L767.4 383.6L768.5 381.9L769.5 380.2L770.6 378.5L771.6 376.8L772.7 375.1L773.8 373.4L774.8 371.7L775.9 370.1L777.0 368.4L777.4 367.7M788.7 350.6L789.8 349.0L790.8 347.5M803.2 330.3L804.4 328.7L805.7 327.1L806.9 325.5L808.1 324.0L809.4 322.4L810.6 320.8L811.9 319.3L813.1 317.7L814.4 316.2L815.7 314.7L817.0 313.1L818.3 311.6L819.6 310.1L821.0 308.6L822.3 307.2L823.0 306.4M837.4 291.9L838.9 290.5L840.2 289.3M857.0 275.9L858.6 274.8L860.2 273.6L861.9 272.5L863.6 271.4L865.3 270.3L867.0 269.3L868.7 268.2L870.4 267.2L872.1 266.2L873.9 265.3L875.6 264.3L877.4 263.4L879.2 262.5L881.0 261.6L882.8 260.7L883.9 260.2M903.3 252.9L905.2 252.3L906.9 251.9M928.1 248.2L930.1 248.1L932.1 248.0L934.1 247.9L936.1 247.9L938.1 247.9L940.1 248.0L942.1 248.1L944.1 248.2L946.1 248.4L948.1 248.6L950.0 248.8L952.0 249.0L954.0 249.3L956.0 249.7L957.9 250.0L958.9 250.2M978.5 255.4L980.4 256.0L982.0 256.6M1001.7 264.6L1003.5 265.4L1005.3 266.3L1007.1 267.2L1008.9 268.1L1010.7 269.0L1012.5 269.9L1014.3 270.8L1016.0 271.8L1017.8 272.7L1019.5 273.7L1021.2 274.7L1023.0 275.7L1024.7 276.7L1026.4 277.8L1028.1 278.8L1028.7 279.2M1045.7 290.8L1047.3 292.0L1048.7 293.0M1065.2 306.4L1066.7 307.7L1068.2 309.0L1069.7 310.4L1071.2 311.7L1072.7 313.0L1074.1 314.4L1075.6 315.8L1077.1 317.1L1078.5 318.5L1080.0 319.9L1081.4 321.3L1082.8 322.7L1084.3 324.1L1085.7 325.5L1087.1 326.9L1087.8 327.6M1101.9 342.4L1103.3 343.9L1104.4 345.2M1118.5 361.2L1119.8 362.7L1121.1 364.2L1122.4 365.7L1123.7 367.3L1125.0 368.8L1126.2 370.3L1127.5 371.9L1128.8 373.4L1130.1 374.9L1131.4 376.5L1132.6 378.0L1133.9 379.5L1135.2 381.1L1136.5 382.6L1137.7 384.2L1138.5 385.2M1151.3 400.9L1152.5 402.5L1153.8 404.0M1167.0 420.6L1168.3 422.2L1169.5 423.8L1170.7 425.3L1172.0 426.9L1173.2 428.5L1174.5 430.0L1175.7 431.6L1176.9 433.2L1178.2 434.7L1179.4 436.3L1180.7 437.9L1181.9 439.5L1183.1 441.0L1184.4 442.6L1185.6 444.2L1186.4 445.2M1199.0 461.3L1200.2 462.9L1201.3 464.3M1214.3 481.4L1215.5 483.0L1216.8 484.5L1218.0 486.1L1219.2 487.7L1220.4 489.3L1221.6 490.9L1222.8 492.5L1224.0 494.1L1225.2 495.7L1226.4 497.3L1227.6 499.0L1228.7 500.6L1229.9 502.2L1231.1 503.8L1232.3 505.4L1233.1 506.4M1245.1 522.9L1246.3 524.6L1247.3 526.0M1259.9 543.5L1261.0 545.1L1262.2 546.7L1263.3 548.4L1264.5 550.0L1265.6 551.6L1266.8 553.3L1267.9 554.9L1269.1 556.5L1270.2 558.2L1271.4 559.8L1272.5 561.4L1273.7 563.1L1274.8 564.7L1276.0 566.4L1277.1 568.0L1277.8 569.0M1289.5 585.9L1290.7 587.5L1291.7 588.9M1303.9 606.7L1305.0 608.3L1306.1 610.0L1307.2 611.6L1308.4 613.3L1309.5 614.9L1310.6 616.6L1311.8 618.2L1312.9 619.9L1314.0 621.5L1315.2 623.2L1316.3 624.8L1317.4 626.5L1318.5 628.1L1319.7 629.8L1320.8 631.4L1321.4 632.2M1332.9 649.2L1334.0 650.8L1335.0 652.3M1347.2 670.0L1348.3 671.7L1349.4 673.3L1350.6 675.0L1351.7 676.6L1352.8 678.3L1354.0 679.9L1355.1 681.6L1356.2 683.2L1357.4 684.8L1358.5 686.5L1359.6 688.1L1360.8 689.8L1361.9 691.4L1363.0 693.1L1364.2 694.7L1364.8 695.5M1376.4 712.4L1377.6 714.0L1378.6 715.5M1390.9 733.1L1392.1 734.7L1393.3 736.3L1394.4 738.0L1395.6 739.6L1396.7 741.2L1397.9 742.8L1399.0 744.5L1400.2 746.1L1401.4 747.7L1402.5 749.4L1403.7 751.0L1404.8 752.6L1406.0 754.3L1407.2 755.9L1408.3 757.5L1408.9 758.3M1420.8 774.7L1421.9 776.4L1423.0 777.8M1435.7 795.1L1436.8 796.7L1438.0 798.3L1439.2 800.0L1440.4 801.6L1441.6 803.2L1442.8 804.8L1444.0 806.4L1445.2 808.0L1446.4 809.6L1447.6 811.2L1448.8 812.8L1450.0 814.4L1451.2 816.0L1452.4 817.6L1453.6 819.2L1454.2 820.0M1466.6 836.3L1467.8 837.9L1468.9 839.3M1482.0 856.3L1483.3 857.8L1484.5 859.4L1485.7 861.0L1487.0 862.6L1488.2 864.1L1489.5 865.7L1490.7 867.3L1491.9 868.8L1493.2 870.4L1494.4 872.0L1495.7 873.5L1496.9 875.1L1498.2 876.7L1499.4 878.2L1500.7 879.8L1501.2 880.4M1514.1 896.3L1515.4 897.8L1516.5 899.2M1530.1 915.5L1531.3 917.0L1532.6 918.6L1533.9 920.1L1535.2 921.6L1536.5 923.1L1537.8 924.7L1539.1 926.2L1540.4 927.7L1541.7 929.2L1543.0 930.7L1544.3 932.3L1545.6 933.8L1546.9 935.3L1548.2 936.8L1549.5 938.3L1550.2 939.1M1563.7 954.5L1565.0 956.0L1566.2 957.3M1580.6 973.3L1581.9 974.8L1583.2 976.2L1584.6 977.7L1585.9 979.2L1587.3 980.7L1588.7 982.1L1590.0 983.6L1591.4 985.1L1592.7 986.5L1594.1 988.0L1595.5 989.5L1596.8 990.9L1598.2 992.4L1599.5 993.9L1600.9 995.3L1601.6 996.1M1615.7 1010.9L1617.1 1012.3L1618.3 1013.6M1633.4 1029.0L1634.8 1030.4L1636.2 1031.8L1637.6 1033.2L1639.0 1034.6L1640.4 1036.1L1641.8 1037.5L1643.3 1038.9L1644.7 1040.3L1646.1 1041.7L1647.5 1043.1L1648.9 1044.5L1650.4 1045.9L1651.8 1047.3L1653.2 1048.7L1654.7 1050.1L1655.4 1050.8M1670.3 1065.2L1671.8 1066.6L1673.1 1067.8M1688.8 1082.4L1690.3 1083.8L1691.7 1085.1L1693.2 1086.5L1694.7 1087.8L1696.2 1089.2L1697.6 1090.5L1699.1 1091.9L1700.6 1093.2L1702.1 1094.5L1703.6 1095.9L1705.1 1097.2L1706.6 1098.5L1708.1 1099.9L1709.6 1101.2L1711.1 1102.5L1712.0 1103.3M1727.6 1117.0L1729.2 1118.3L1730.5 1119.4M1747.1 1133.4L1748.7 1134.7L1750.2 1136.0L1751.8 1137.2L1753.3 1138.5L1754.8 1139.8L1756.4 1141.0L1757.9 1142.3L1759.5 1143.6L1761.1 1144.8L1762.6 1146.1L1764.2 1147.3L1765.7 1148.6L1767.3 1149.8L1768.9 1151.1L1770.4 1152.3L1771.4 1153.1M1787.6 1165.7L1789.2 1166.9L1790.7 1168.1M1807.9 1181.1L1809.5 1182.2L1811.2 1183.4L1812.8 1184.6L1814.4 1185.8L1816.0 1187.0L1817.6 1188.1L1819.2 1189.3L1820.9 1190.5L1822.5 1191.6L1824.1 1192.8L1825.7 1194.0L1827.4 1195.1L1829.0 1196.3L1830.6 1197.4L1832.3 1198.6L1833.5 1199.5M1850.4 1211.1L1852.0 1212.2L1853.7 1213.3M1871.6 1225.2L1873.3 1226.3L1875.0 1227.3L1876.7 1228.4L1878.4 1229.5L1880.1 1230.6L1881.7 1231.6L1883.4 1232.7L1885.1 1233.8L1886.8 1234.8L1888.5 1235.9L1890.2 1236.9L1891.9 1238.0L1893.6 1239.1L1895.3 1240.1L1897.0 1241.1L1898.3 1241.9M1915.9 1252.5L1917.6 1253.5L1919.3 1254.5M1938.0 1265.1L1939.8 1266.1L1941.5 1267.0L1943.3 1268.0L1945.0 1269.0L1946.8 1269.9L1948.6 1270.9L1950.3 1271.8L1952.1 1272.8L1953.8 1273.7L1955.6 1274.7L1957.4 1275.6L1959.1 1276.6L1960.9 1277.5L1962.7 1278.4L1964.4 1279.3L1965.8 1280.0M1984.0 1289.3L1985.8 1290.2L1987.6 1291.1M2007.0 1300.4L2008.8 1301.2L2010.7 1302.1L2012.5 1302.9L2014.3 1303.7L2016.1 1304.6L2017.9 1305.4L2019.8 1306.2L2021.6 1307.0L2023.4 1307.8L2025.2 1308.7L2027.1 1309.5L2028.9 1310.3L2030.7 1311.1L2032.6 1311.9L2034.4 1312.7L2035.5 1313.2M2054.5 1321.1L2056.3 1321.8L2058.2 1322.6M2078.2 1330.4L2080.1 1331.1L2081.9 1331.8L2083.8 1332.5L2085.7 1333.2L2087.6 1333.9L2089.4 1334.6L2091.3 1335.2L2093.2 1335.9L2095.1 1336.6L2097.0 1337.3L2098.9 1337.9L2100.7 1338.6L2102.6 1339.3L2104.5 1339.9L2106.4 1340.6L2107.4 1340.9M2126.8 1347.3L2128.7 1347.9L2130.4 1348.5M2151.0 1354.7L2152.9 1355.3L2154.8 1355.8L2156.7 1356.4L2158.6 1356.9L2160.6 1357.5L2162.5 1358.0L2164.4 1358.5L2166.4 1359.1L2168.3 1359.6L2170.2 1360.1L2172.1 1360.6L2174.1 1361.2L2176.0 1361.7L2177.9 1362.2L2179.9 1362.7L2180.6 1362.9" stroke="#008000"/>
</g>
<g stroke="#000" stroke-width="0.80">
<text transform="translate(201.0 1488.5) scale(1 1.040)" font-size="59.5" text-anchor="end">0</text>
<text transform="translate(201.0 1313.6) scale(1 1.040)" font-size="59.5" text-anchor="end">2</text>
<text transform="translate(201.0 1138.8) scale(1 1.040)" font-size="59.5" text-anchor="end">4</text>
<text transform="translate(201.0 963.9) scale(1 1.040)" font-size="59.5" text-anchor="end">6</text>
<text transform="translate(201.0 789.0) scale(1 1.040)" font-size="59.5" text-anchor="end">8</text>
<text transform="translate(201.0 614.1) scale(1 1.040)" font-size="59.5" text-anchor="end">10</text>
<text transform="translate(201.0 439.2) scale(1 1.040)" font-size="59.5" text-anchor="end">12</text>
<text transform="translate(201.0 264.4) scale(1 1.040)" font-size="59.5" text-anchor="end">14</text>
<text transform="translate(201.0 89.5) scale(1 1.040)" font-size="59.5" text-anchor="end">16</text>
<text transform="translate(231.5 1544.0) scale(1 1.040)" font-size="59.5" text-anchor="middle">8</text>
<text transform="translate(298.4 1547.0) scale(1 1.040)" font-size="59.5" text-anchor="middle">10</text>
<text transform="translate(999.8 1547.0) scale(1 1.040)" font-size="59.5" text-anchor="middle">100</text>
<text transform="translate(1701.2 1547.0) scale(1 1.040)" font-size="59.5" text-anchor="middle">1000</text>
<text transform="translate(2196.0 1544.5) scale(1 1.040)" font-size="59.5" text-anchor="middle">5000</text>
<text transform="translate(883.5 1655.6) scale(1 1.040)" font-size="70.6">Electron energy [eV]</text>
<text transform="translate(104.7 1299.0) rotate(-90) scale(1 1.040)" font-size="70.6">Ionization cross section [10 <tspan font-size="43.0" dy="-34">-20</tspan><tspan dy="34"> m</tspan><tspan font-size="43.0" dy="-34">2</tspan><tspan dy="34">]</tspan></text>
<text transform="translate(1568.8 183.7) scale(1 1.040)" font-size="65.6">2-Bromopyrimidine</text>
<text transform="translate(1568.8 264.9) scale(1 1.040)" font-size="65.6">5-Bromopyrimidine</text>
<text transform="translate(1568.8 346.1) scale(1 1.040)" font-size="65.6">2-Chloropyrimidine</text>
<text transform="translate(1568.8 427.3) scale(1 1.040)" font-size="65.6">5-Chloropyrimidine</text>
<text transform="translate(1568.8 508.5) scale(1 1.040)" font-size="65.6">Pyrimidine</text>
</g>
<path d="M1404 161.0H1552" stroke="#000080" stroke-width="8" stroke-linecap="round" fill="none" stroke-dasharray="4 32.2"/>
<path d="M1404 242.5H1552" stroke="#008000" stroke-width="8" stroke-linecap="round" fill="none" stroke-dasharray="31 20 4 21"/>
<path d="M1404 324.0H1552" stroke="#800000" stroke-width="8" stroke-linecap="round" fill="none"/>
<path d="M1404 405.5H1552" stroke="#FF00FF" stroke-width="8" stroke-linecap="round" fill="none" stroke-dasharray="25 36"/>
<path d="M1404 487.0H1552" stroke="#FF0000" stroke-width="8" stroke-linecap="round" fill="none" stroke-dasharray="22 20.5 4 20.5 4 21"/>
</svg></body></html>
